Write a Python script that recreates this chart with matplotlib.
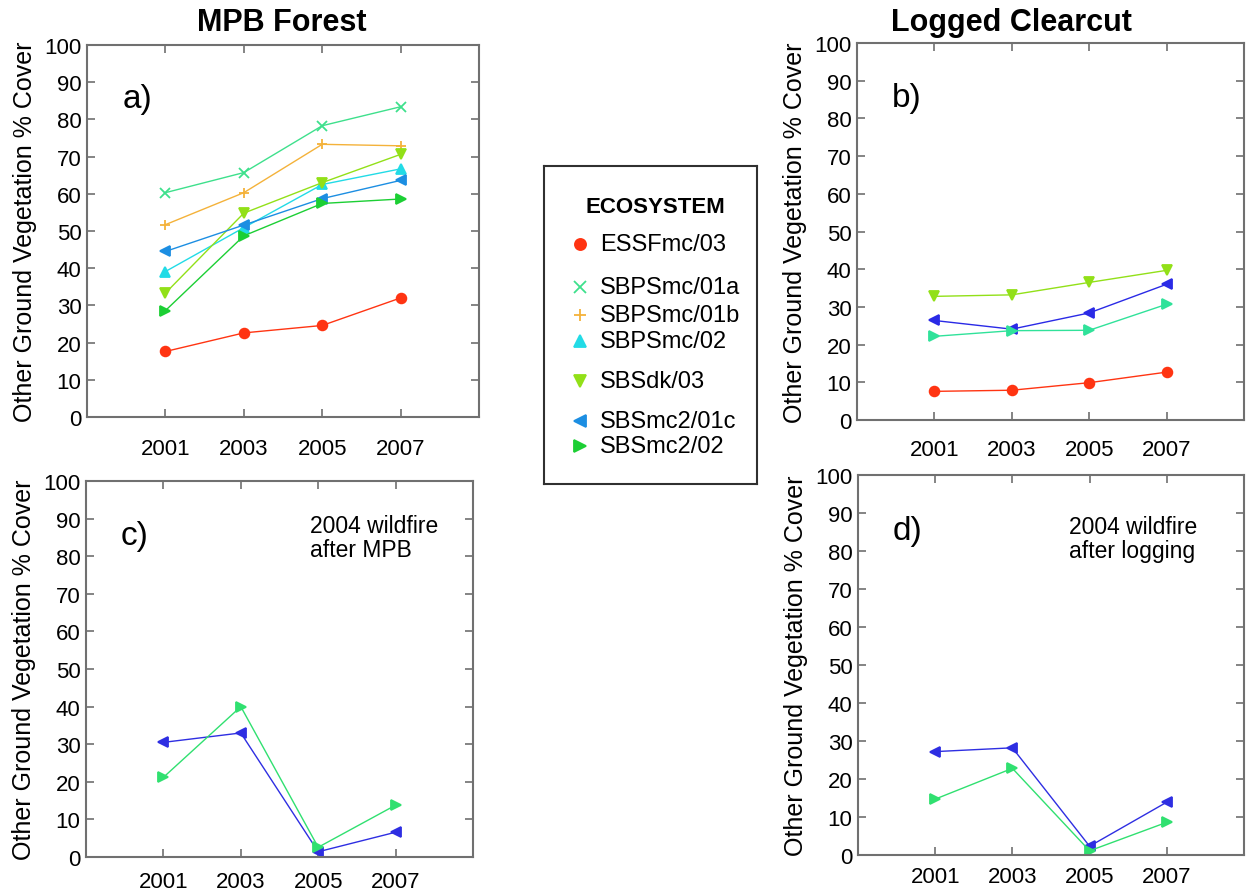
import matplotlib
matplotlib.use("Agg")
import matplotlib.pyplot as plt

plt.rcParams['font.family'] = ['Liberation Sans', 'DejaVu Sans']

years = [2001, 2003, 2005, 2007]
ecosystems = ['ESSFmc/03', 'SBPSmc/01a', 'SBPSmc/01b', 'SBPSmc/02',
              'SBSdk/03', 'SBSmc2/01c', 'SBSmc2/02']

# a) MPB forest
mpb_essf = [17.6, 22.6, 24.6, 32.0]
mpb_sbps01a = [60.3, 65.7, 78.3, 83.4]
mpb_sbps01b = [51.7, 60.3, 73.3, 72.9]
mpb_sbps02 = [39.1, 50.9, 62.5, 66.7]
mpb_sbsdk = [33.3, 54.8, 63.0, 70.6]
mpb_sbs01c = [44.5, 51.6, 58.7, 63.6]
mpb_sbs02 = [28.6, 48.7, 57.4, 58.6]

# b) logged clearcut
cut_essf = [7.6, 7.9, 9.9, 12.7]
cut_sbsdk = [32.8, 33.2, 36.5, 39.7]
cut_sbs01c = [26.4, 24.1, 28.4, 36.0]
cut_sbs02 = [22.2, 23.7, 23.8, 30.7]

# c) 2004 wildfire after MPB
fire_mpb_01c = [30.5, 33.0, 1.4, 6.6]
fire_mpb_02 = [21.2, 40.0, 2.6, 13.8]

# d) 2004 wildfire after logging
fire_cut_01c = [27.2, 28.2, 2.3, 13.9]
fire_cut_02 = [14.7, 22.8, 1.1, 8.6]

markers = {'ESSFmc/03': 'o', 'SBPSmc/01a': 'x', 'SBPSmc/01b': '+',
           'SBPSmc/02': '^', 'SBSdk/03': 'v', 'SBSmc2/01c': '<',
           'SBSmc2/02': '>'}
colors = {'ESSFmc/03': '#ff3412', 'SBPSmc/01a': '#3ee08c',
          'SBPSmc/01b': '#f4b23a', 'SBPSmc/02': '#22dbe6',
          'SBSdk/03': '#92e018', 'SBSmc2/01c': '#1c8ee2',
          'SBSmc2/02': '#1ccf34'}

spine_col = '#707070'

fig = plt.figure(figsize=(12.52, 8.95), dpi=100)


def style_axes(ax, xpad):
    ax.set_xlim(1999, 2009)
    ax.set_ylim(0, 100)
    ax.set_xticks(years)
    ax.set_yticks(range(0, 101, 10))
    ax.tick_params(direction='in', top=True, right=True, length=6,
                   width=1.2, color=spine_col, labelsize=16)
    ax.tick_params(axis='x', pad=xpad)
    ax.tick_params(axis='y', pad=4)
    for s in ax.spines.values():
        s.set_color(spine_col)
        s.set_linewidth(1.5)
    ax.set_ylabel('Other Ground Vegetation % Cover', fontsize=18, labelpad=5)


def draw(ax, name, vals, color=None):
    c = color or colors[name]
    ax.plot(years, vals, color=c, lw=1.0, marker=markers[name],
            markersize=7, markerfacecolor=c, markeredgecolor=c, mew=1.3)


ax_a = fig.add_axes([0.0695, 0.533, 0.3131, 0.4156])
ax_b = fig.add_axes([0.6845, 0.5296, 0.3091, 0.4212])
ax_c = fig.add_axes([0.0687, 0.0413, 0.3091, 0.4201])
ax_d = fig.add_axes([0.6853, 0.0436, 0.3083, 0.4246])

mpb_series = [mpb_essf, mpb_sbps01a, mpb_sbps01b, mpb_sbps02,
              mpb_sbsdk, mpb_sbs01c, mpb_sbs02]
for name, vals in zip(ecosystems, mpb_series):
    draw(ax_a, name, vals)

draw(ax_b, 'ESSFmc/03', cut_essf)
draw(ax_b, 'SBSdk/03', cut_sbsdk)
draw(ax_b, 'SBSmc2/01c', cut_sbs01c, '#2a2ae6')
draw(ax_b, 'SBSmc2/02', cut_sbs02, '#30e29a')

draw(ax_c, 'SBSmc2/01c', fire_mpb_01c, '#2e2ee2')
draw(ax_c, 'SBSmc2/02', fire_mpb_02, '#30e070')
draw(ax_d, 'SBSmc2/01c', fire_cut_01c, '#2e2ee2')
draw(ax_d, 'SBSmc2/02', fire_cut_02, '#30e070')

style_axes(ax_a, 15)
style_axes(ax_b, 14)
style_axes(ax_c, 10)
style_axes(ax_d, 8)

for ax, lab in zip([ax_a, ax_b, ax_c, ax_d], ['a)', 'b)', 'c)', 'd)']):
    ax.text(0.09, 0.855, lab, transform=ax.transAxes, fontsize=24,
            ha='left', va='center')

ax_c.text(0.58, 0.85, '2004 wildfire\nafter MPB', transform=ax_c.transAxes,
          fontsize=16.5, ha='left', va='center', linespacing=1.1)
ax_d.text(0.547, 0.833, '2004 wildfire\nafter logging', transform=ax_d.transAxes,
          fontsize=16.5, ha='left', va='center', linespacing=1.1)

fig.text(0.2252, 0.974, 'MPB Forest', fontsize=22, fontweight='bold',
         ha='center', va='center')
fig.text(0.808, 0.974, 'Logged Clearcut', fontsize=22, fontweight='bold',
         ha='center', va='center')

# legend box, laid out in pixel units from its top-left corner
leg = fig.add_axes([0.4345, 0.458, 0.1701, 0.3553])
leg.set_xlim(0, 213)
leg.set_ylim(318, 0)
leg.set_xticks([])
leg.set_yticks([])
for s in leg.spines.values():
    s.set_color('#303030')
    s.set_linewidth(1.5)
leg.text(111, 40, 'ECOSYSTEM', fontsize=16, fontweight='bold',
         ha='center', va='center')
rows = [78, 121, 149, 175, 215, 255, 280]
for name, yy in zip(ecosystems, rows):
    leg.plot([36], [yy], linestyle='none', marker=markers[name],
             markersize=8, color=colors[name], mew=1.3)
    leg.text(56, yy, name, fontsize=17, ha='left', va='center')

fig.savefig('out.png', dpi=100)
